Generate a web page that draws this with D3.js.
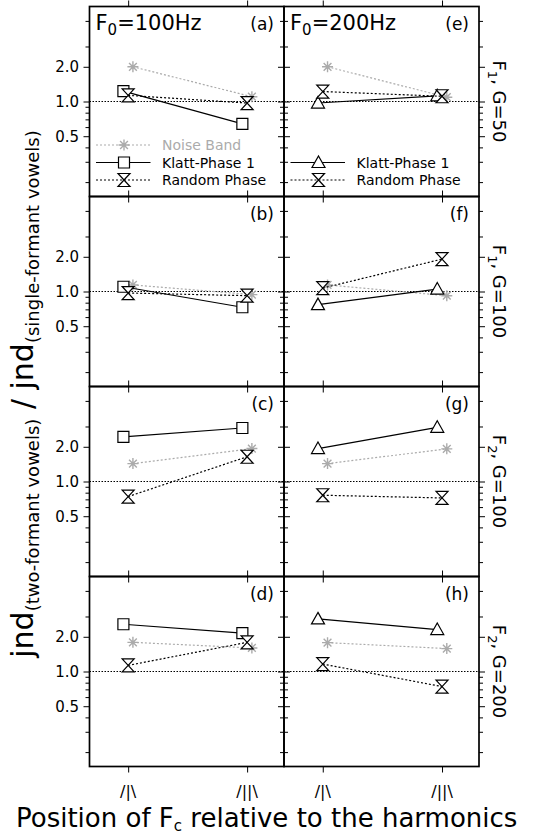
<!DOCTYPE html>
<html>
<head>
<meta charset="utf-8">
<script src="https://cdn.jsdelivr.net/npm/d3@7"></script>
<style>
body { margin: 0; background: #fff; }
svg { display: block; }
text { font-family: "DejaVu Sans", sans-serif; fill: #000; }
</style>
</head>
<body>
<div id="chart"></div>
<script>
// harmonic positions of the formant centre (x) and their tick labels
const positions = [1, 2];
const positionLabels = ["/|\\", "/||\\"];
const panelLetters = ["a", "b", "c", "d", "e", "f", "g", "h"];
const f0Labels = ["100Hz", "200Hz"];
const rowFormants = ["1", "1", "2", "2"];
const rowGains = ["G=50", "G=100", "G=100", "G=200"];

// jnd ratio per panel (a..h), value at /|\ and /||\
const noiseBand   = [[2.00, 1.10], [1.14, 0.94], [1.43, 1.93], [1.79, 1.60],
                     [2.00, 1.09], [1.14, 0.92], [1.43, 1.92], [1.78, 1.58]];
const klattPhase  = [[1.23, 0.64], [1.10, 0.73], [2.44, 2.91], [2.57, 2.15],
                     [0.97, 1.12], [0.77, 1.05], [1.93, 2.95], [2.86, 2.31]];
const randomPhase = [[1.13, 0.97], [0.97, 0.92], [0.74, 1.64], [1.13, 1.79],
                     [1.22, 1.11], [1.07, 1.91], [0.76, 0.72], [1.16, 0.74]];

const yTickValues = [0.2, 0.3, 0.4, 0.5, 0.6, 0.7, 0.8, 0.9, 1, 2, 3, 5];
const yLabelValues = [2, 1, 0.5];

const width = 536, height = 836;
const colX = [89.5, 284, 479];
const rowY = [6.5, 196.5, 386.5, 576.5, 766.5];
const grey = "#ababab";

const svg = d3.select("#chart").append("svg")
    .attr("width", width)
    .attr("height", height);

// marker shape depends on the column (square for F0=100, triangle for F0=200)
const series = [
    { name: "Noise Band", data: noiseBand, offset: 0.04, color: grey, dash: "2,2", marker: () => "star" },
    { name: "Klatt-Phase 1", data: klattPhase, offset: -0.04, color: "#000", dash: null, marker: col => col === 0 ? "square" : "triangle" },
    { name: "Random Phase", data: randomPhase, offset: 0, color: "#000", dash: "2,2", marker: () => "hourglass" }
];

function markerPath(type) {
    if (type === "square") return "M-5.5,-5.5H5.5V5.5H-5.5Z";
    if (type === "triangle") return "M0,-6.5L6.5,5L-6.5,5Z";
    if (type === "hourglass") return "M-6,-6.5H6L-6,6.5H6Z";
    // asterisk
    const r = 5.5, p = d3.path();
    for (let k = 0; k < 4; k++) {
        const a = k * Math.PI / 4;
        p.moveTo(-r * Math.cos(a), -r * Math.sin(a));
        p.lineTo(r * Math.cos(a), r * Math.sin(a));
    }
    return p.toString();
}

function drawMarker(g, type, x, y, color) {
    g.append("path")
        .attr("d", markerPath(type))
        .attr("transform", `translate(${x},${y})`)
        .attr("fill", type === "star" ? "none" : "#fff")
        .attr("stroke", color)
        .attr("stroke-width", type === "star" ? 1.4 : 1.2);
}

panelLetters.forEach((letter, p) => {
    const col = Math.floor(p / 4), row = p % 4;
    const x0 = colX[col], x1 = colX[col + 1];
    const y0 = rowY[row], y1 = rowY[row + 1];

    const x = d3.scaleLinear().domain([0.675, 2.31]).range([x0, x1]);
    const y = d3.scaleLog().domain([0.15, 1 / 0.15]).range([y1, y0]);

    const g = svg.append("g");

    // ticks, outward on all four sides
    [[d3.axisLeft, x0, -6], [d3.axisRight, x1, 6]].forEach(([axis, xpos, major]) => {
        g.append("g")
            .attr("transform", `translate(${xpos},0)`)
            .call(axis(y).tickValues(yTickValues).tickSize(4).tickFormat(""))
            .call(a => a.select(".domain").remove())
            .call(a => a.selectAll(".tick line").filter(d => yLabelValues.includes(d)).attr("x2", major));
    });

    [[d3.axisTop, y0], [d3.axisBottom, y1]].forEach(([axis, ypos]) => {
        g.append("g")
            .attr("transform", `translate(0,${ypos})`)
            .call(axis(x).tickValues(positions).tickSize(6).tickFormat(""))
            .call(a => a.select(".domain").remove());
    });

    // reference line at 1.0
    g.append("line")
        .attr("x1", x0).attr("x2", x1)
        .attr("y1", y(1)).attr("y2", y(1))
        .attr("stroke", "#000")
        .attr("stroke-width", 1)
        .attr("stroke-dasharray", "1.5,1.5");

    // series
    series.forEach(s => {
        const pts = positions.map((pos, i) => [x(pos + s.offset), y(s.data[p][i])]);
        g.append("path")
            .attr("d", d3.line()(pts))
            .attr("fill", "none")
            .attr("stroke", s.color)
            .attr("stroke-width", 1.2)
            .attr("stroke-dasharray", s.dash);
        pts.forEach(([px, py]) => drawMarker(g, s.marker(col), px, py, s.color));
    });

    // frame
    g.append("rect")
        .attr("x", x0).attr("y", y0)
        .attr("width", x1 - x0).attr("height", y1 - y0)
        .attr("fill", "none")
        .attr("stroke", "#000")
        .attr("stroke-width", 1.7);

    // panel letter
    g.append("text")
        .attr("x", x1 - 10)
        .attr("y", y0 + 23)
        .attr("text-anchor", "end")
        .style("font-size", "17px")
        .text(`(${letter})`);

    // y labels, left column only
    if (col === 0) {
        yLabelValues.forEach(v => {
            g.append("text")
                .attr("x", 79)
                .attr("y", y(v))
                .attr("dy", "0.36em")
                .attr("text-anchor", "end")
                .style("font-size", "15px")
                .text(d3.format(".1f")(v));
        });
    }

    // F0 title in top row
    if (row === 0) {
        const t = g.append("text")
            .attr("x", x0 + 6)
            .attr("y", y0 + 23)
            .style("font-size", "21px");
        t.append("tspan").text("F");
        t.append("tspan").attr("dy", 5).style("font-size", "15px").text("0");
        t.append("tspan").attr("dy", -5).text("=" + f0Labels[col]);
    }

    // formant / gain label at right
    if (col === 1) {
        const t = g.append("text")
            .attr("transform", `translate(493,${(y0 + y1) / 2}) rotate(90)`)
            .attr("text-anchor", "middle")
            .style("font-size", "18px");
        t.append("tspan").text("F");
        t.append("tspan").attr("dy", 5).style("font-size", "13px").text(rowFormants[row]);
        t.append("tspan").attr("dy", -5).text(", " + rowGains[row]);
    }

    // x tick labels below bottom row
    if (row === 3) {
        positions.forEach((pos, i) => {
            g.append("text")
                .attr("x", x(pos))
                .attr("y", 797)
                .attr("text-anchor", "middle")
                .style("font-size", "16px")
                .text(positionLabels[i]);
        });
    }

    // legends
    if (p === 0 || p === 4) {
        const list = p === 0 ? series : series.slice(1);
        const rowsY = p === 0 ? [145, 162.5, 180] : [162.5, 180];
        const lx0 = x0 + 6.5, lx1 = x0 + 61, lm = x0 + 34.5, tx = x0 + 72.5;
        list.forEach((s, i) => {
            const ly = rowsY[i];
            g.append("line")
                .attr("x1", lx0).attr("x2", lx1)
                .attr("y1", ly).attr("y2", ly)
                .attr("stroke", s.color)
                .attr("stroke-width", 1.2)
                .attr("stroke-dasharray", s.dash);
            drawMarker(g, s.marker(col), lm, ly, s.color);
            g.append("text")
                .attr("x", tx)
                .attr("y", ly)
                .attr("dy", "0.36em")
                .style("font-size", "14px")
                .style("fill", s.color)
                .text(s.name);
        });
    }
});

// y axis title
const yt = svg.append("text")
    .attr("transform", "translate(33,394) rotate(-90)")
    .attr("text-anchor", "middle")
    .style("font-size", "30px");
yt.append("tspan").text("jnd");
yt.append("tspan").attr("dy", 6).style("font-size", "18px").text("(two-formant vowels)");
yt.append("tspan").attr("dy", -6).text(" / jnd");
yt.append("tspan").attr("dy", 6).style("font-size", "18px").text("(single-formant vowels)");

// x axis title
const xt = svg.append("text")
    .attr("x", 16)
    .attr("y", 827)
    .style("font-size", "26px");
xt.append("tspan").text("Position of F");
xt.append("tspan").attr("dy", 3.5).style("font-size", "15px").text("c");
xt.append("tspan").attr("dy", -3.5).text(" relative to the harmonics");
</script>
</body>
</html>
